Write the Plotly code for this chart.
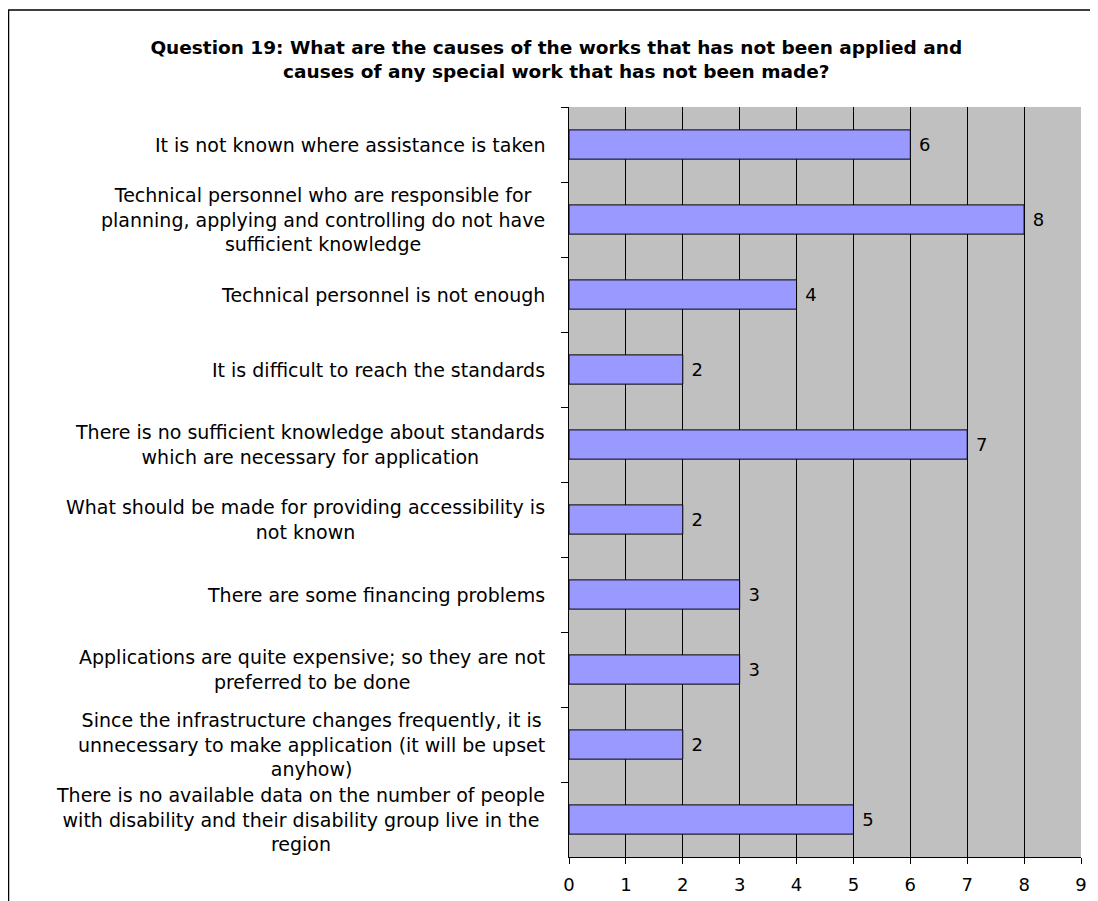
import plotly.graph_objects as go

categories = [
    "It is not known where assistance is taken",
    "Technical personnel who are responsible for<br>planning, applying and controlling do not have<br>sufficient knowledge",
    "Technical personnel is not enough",
    "It is difficult to reach the standards",
    "There is no sufficient knowledge about standards<br>which are necessary for application",
    "What should be made for providing accessibility is<br>not known",
    "There are some financing problems",
    "Applications are quite expensive; so they are not<br>preferred to be done",
    "Since the infrastructure changes frequently, it is<br>unnecessary to make application (it will be upset<br>anyhow)",
    "There is no available data on the number of people<br>with disability and their disability group live in the<br>region",
]
values = [6, 8, 4, 2, 7, 2, 3, 3, 2, 5]
x_ticks = list(range(0, 10))
title_text = ("Question 19: What are the causes of the works that has not been applied and<br>"
              "causes of any special work that has not been made?")

# page has an 8px body margin, so the figure is sized to fit the window
W, H = 1090, 893
L, R, T, B = 561, 17, 99, 44
pw, ph = W - L - R, H - T - B

def px_x(px):
    return (px - L) / pw

def px_y(py):
    return (H - B - py) / ph

font_family = "DejaVu Sans, Verdana, sans-serif"

fig = go.Figure()
fig.add_trace(go.Bar(
    y=categories, x=values, orientation="h",
    marker=dict(color="#9999FF", line=dict(color="#000000", width=1)),
    text=[str(v) for v in values], texttemplate=" %{text}", textposition="outside",
    textfont=dict(family=font_family, size=18, color="#000000"),
    cliponaxis=False, width=0.39,
))

annotations = []
for c in categories:
    annotations.append(dict(
        x=px_x(539), xref="paper", y=c, yref="y", text=c, showarrow=False,
        xanchor="right", yanchor="middle", align="center",
        font=dict(family=font_family, size=19, color="#000000"),
    ))

fig.update_layout(
    width=W, height=H,
    margin=dict(l=L, r=R, t=T, b=B, autoexpand=False),
    paper_bgcolor="white", plot_bgcolor="#C0C0C0",
    showlegend=False,
    title=dict(text="<b>" + title_text + "</b>", x=0.503, xref="container", xanchor="center",
               y=1 - 46 / H, yanchor="middle",
               font=dict(family=font_family, size=18.5, color="#000000")),
    annotations=annotations,
    shapes=[dict(type="rect", xref="paper", yref="paper",
                 x0=px_x(0.5), x1=px_x(1200), y0=px_y(1000), y1=px_y(2),
                 line=dict(color="#000000", width=1.5), fillcolor="rgba(0,0,0,0)", layer="below")],
    xaxis=dict(range=[0, 9], tickvals=x_ticks, ticktext=[str(v) for v in x_ticks],
               showgrid=True, gridcolor="#000000", gridwidth=1,
               showline=True, linecolor="#000000", linewidth=1,
               ticks="outside", ticklen=6, tickcolor="#000000", ticklabelstandoff=5,
               tickfont=dict(family=font_family, size=18, color="#000000"),
               zeroline=False, fixedrange=True, automargin=False),
    yaxis=dict(type="category", autorange="reversed", showticklabels=False,
               showline=True, linecolor="#000000", linewidth=1,
               ticks="outside", ticklen=7, tickcolor="#000000", tickson="boundaries",
               showgrid=False, fixedrange=True, automargin=False),
)

fig.write_html("out.html")
